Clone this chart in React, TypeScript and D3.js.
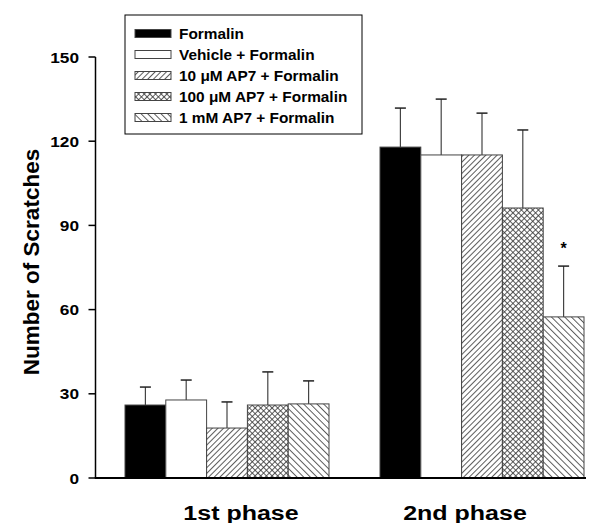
import React from "react";
import * as d3 from "d3";

const phases = ["1st phase", "2nd phase"];
const seriesNames = [
  "Formalin",
  "Vehicle + Formalin",
  "10 \u03bcM AP7 + Formalin",
  "100 \u03bcM AP7 + Formalin",
  "1 mM AP7 + Formalin",
];
const formalin = [26.0, 117.9];
const vehicle = [27.8, 115.1];
const ap7_10 = [17.8, 115.1];
const ap7_100 = [26.0, 96.2];
const ap7_1000 = [26.4, 57.4];
const formalinErr = [6.4, 13.9];
const vehicleErr = [7.1, 19.9];
const ap7_10Err = [9.3, 14.9];
const ap7_100Err = [11.8, 27.8];
const ap7_1000Err = [8.2, 18.1];
const yTicks = [0, 30, 60, 90, 120, 150];
const significant = [[false, false, false, false, false], [false, false, false, false, true]];

const means = [formalin, vehicle, ap7_10, ap7_100, ap7_1000];
const errs = [formalinErr, vehicleErr, ap7_10Err, ap7_100Err, ap7_1000Err];
const fills = ["#000", "#fff", "url(#pFwd)", "url(#pCross)", "url(#pBack)"];

export default function App() {
  const W = 593, H = 523;
  const left = 95.5, right = 586, top = 57, bottom = 478;
  const y = d3.scaleLinear().domain([0, 150]).range([bottom, top]);
  const x0 = d3.scaleBand().domain(phases).range([125, 584]).paddingInner(0.2).paddingOuter(0);
  const x1 = d3.scaleBand().domain(seriesNames.map((_, i) => String(i))).range([0, x0.bandwidth()]);
  const xLabel = d3.scalePoint().domain(phases).range([241, 465]);
  const font = "Arial, 'Liberation Sans', Helvetica, sans-serif";
  return (
    <svg width={W} height={H} style={{ position: "absolute", left: 0, top: 0 }} fontFamily={font}>
      <defs>
        <pattern id="pFwd" patternUnits="userSpaceOnUse" width="4" height="4" patternTransform="rotate(45)">
          <rect width="4" height="4" fill="#fff" />
          <line x1="0.5" y1="0" x2="0.5" y2="4" stroke="#333" strokeWidth="0.8" />
        </pattern>
        <pattern id="pBack" patternUnits="userSpaceOnUse" width="4.7" height="4.7" patternTransform="rotate(-45)">
          <rect width="4.7" height="4.7" fill="#fff" />
          <line x1="0.5" y1="0" x2="0.5" y2="4.7" stroke="#333" strokeWidth="0.8" />
        </pattern>
        <pattern id="pCross" patternUnits="userSpaceOnUse" width="4" height="4" patternTransform="rotate(45)">
          <rect width="4" height="4" fill="#fff" />
          <line x1="0.5" y1="0" x2="0.5" y2="4" stroke="#333" strokeWidth="0.8" />
          <line x1="0" y1="0.5" x2="4" y2="0.5" stroke="#333" strokeWidth="0.8" />
        </pattern>
      </defs>
      <rect width={W} height={H} fill="#fff" />
      {phases.map((p, pi) => (
        <g key={p} transform={`translate(${x0(p)},0)`}>
          {means.map((m, si) => {
            const bx = x1(String(si))!;
            const bw = x1.bandwidth();
            const v = m[pi];
            const e = errs[si][pi];
            const cx = bx + bw / 2;
            return (
              <g key={si}>
                <line x1={cx} x2={cx} y1={y(v)} y2={y(v + e)} stroke="#444" strokeWidth={1.2} />
                <line x1={cx - 5.5} x2={cx + 5.5} y1={y(v + e)} y2={y(v + e)} stroke="#222" strokeWidth={1.5} />
                <rect x={bx} y={y(v)} width={bw} height={y(0) - y(v)} fill={fills[si]} stroke="#444" strokeWidth={1} />
                {significant[pi][si] && (
                  <text x={cx} y={y(v + e) - 12} textAnchor="middle" fontSize={16} fontWeight="bold">*</text>
                )}
              </g>
            );
          })}
        </g>
      ))}
      {phases.map((p) => (
        <text key={p} transform={`translate(${xLabel(p)},520) scale(1.25,1)`} textAnchor="middle" fontSize={20} fontWeight="bold">{p}</text>
      ))}
      <line x1={left} x2={left} y1={top} y2={bottom} stroke="#000" strokeWidth={1.5} />
      <line x1={left - 0.75} x2={right} y1={bottom} y2={bottom} stroke="#000" strokeWidth={2} />
      {yTicks.map((t) => (
        <g key={t}>
          <line x1={left - 7} x2={left} y1={y(t)} y2={y(t)} stroke="#000" strokeWidth={1.5} />
          <text transform={`translate(79,${y(t) + 5.5}) scale(1.15,1)`} textAnchor="end" fontSize={15} fontWeight="bold">{t}</text>
        </g>
      ))}
      <text transform={`translate(39,262) rotate(-90)`} textAnchor="middle" fontSize={22.5} fontWeight="bold">Number of Scratches</text>
      <rect x={125} y={15} width={237} height={119} fill="#fff" stroke="#000" strokeWidth={1} />
      {seriesNames.map((n, i) => {
        const ry = 33.5 + i * 21;
        return (
          <g key={n}>
            <rect x={135} y={ry - 4} width={36} height={8} fill={fills[i]} stroke="#444" strokeWidth={1} />
            <text transform={`translate(179,${ry + 5.5}) scale(1.1,1)`} fontSize={14} fontWeight="bold">{n}</text>
          </g>
        );
      })}
    </svg>
  );
}
